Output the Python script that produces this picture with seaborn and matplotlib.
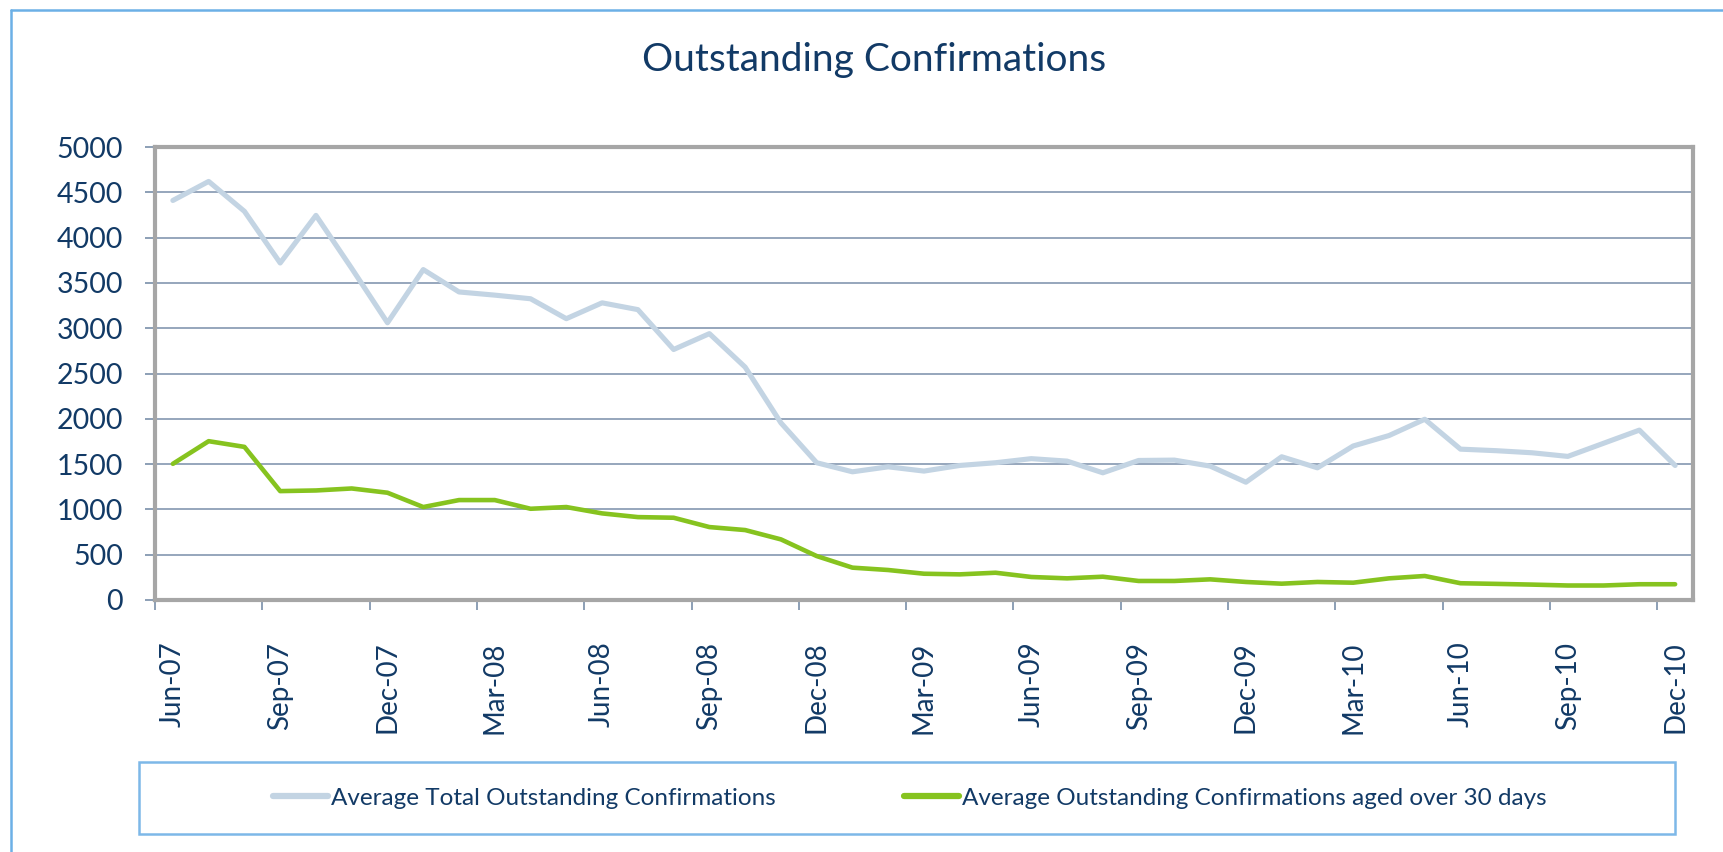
import matplotlib
matplotlib.use("Agg")
import matplotlib.pyplot as plt
from matplotlib.lines import Line2D
from matplotlib.patches import Rectangle
import pandas as pd
import seaborn as sns

months = pd.date_range("2007-06-01", periods=43, freq="MS").strftime("%b-%y").tolist()

total_outstanding = [4410, 4620, 4290, 3720, 4245, 3660, 3060, 3647, 3400, 3365,
                     3325, 3105, 3280, 3205, 2765, 2940, 2570, 1955, 1515, 1415,
                     1470, 1423, 1485, 1515, 1560, 1533, 1404, 1540, 1544, 1478,
                     1300, 1581, 1459, 1700, 1815, 1995, 1665, 1648, 1625, 1585,
                     1730, 1875, 1485]
aged_over_30 = [1503, 1753, 1690, 1202, 1209, 1231, 1184, 1026, 1103, 1103,
                1007, 1026, 956, 915, 908, 805, 772, 669, 485, 357,
                331, 290, 283, 301, 254, 239, 257, 210, 210, 228,
                199, 180, 199, 191, 239, 265, 185, 178, 170, 160,
                160, 174, 174]

series_names = ["Average Total Outstanding Confirmations",
                "Average Outstanding Confirmations aged over 30 days"]
series_colors = ["#C3D4E3", "#86C31F"]

yticks = [0, 500, 1000, 1500, 2000, 2500, 3000, 3500, 4000, 4500, 5000]

text_col = "#123A66"
grid_col = "#8497B0"

df = pd.DataFrame({
    "idx": list(range(len(months))) * 2,
    "value": total_outstanding + aged_over_30,
    "series": [series_names[0]] * len(months) + [series_names[1]] * len(months),
})

sns.set_style("white")
plt.rcParams["font.family"] = ["Lato", "DejaVu Sans"]

fig = plt.figure(figsize=(17.24, 8.52), dpi=100)
ax = fig.add_axes([155 / 1724, 1 - 600 / 852, (1693 - 155) / 1724, (600 - 147) / 852])

sns.lineplot(data=df, x="idx", y="value", hue="series", palette=series_colors,
             linewidth=3.7, ax=ax, legend=False, sort=False)
ax.lines[1].set_linewidth(3.3)

ax.set_xlim(-0.5, len(months) - 0.5)
ax.set_ylim(0, 5000)
ax.set_yticks(yticks)
ax.set_yticklabels([str(v) for v in yticks])
ax.yaxis.grid(True, color=grid_col, linewidth=1.2)
ax.set_axisbelow(True)

# ticks at category boundaries, labels at every third month
ax.set_xticks([i - 0.5 for i in range(0, len(months), 3)])
ax.set_xticklabels([])
ax.set_xticks(list(range(0, len(months), 3)), minor=True)
ax.set_xticklabels(months[::3], minor=True, rotation=90)
ax.tick_params(axis="x", which="major", direction="out", length=7, width=1.3,
               color=grid_col, bottom=True)
ax.tick_params(axis="x", which="minor", length=0, pad=30, labelsize=20,
               labelcolor=text_col)
ax.tick_params(axis="y", direction="out", length=7, width=1.3, color=grid_col,
               left=True, pad=16, labelsize=20.5, labelcolor=text_col)
ax.set_xlabel("")
ax.set_ylabel("")

for s in ax.spines.values():
    s.set_color("#A6A6A6")
    s.set_linewidth(3)

fig.text(874 / 1724, 1 - 60 / 852, "Outstanding Confirmations", ha="center",
         va="center", fontsize=28, color=text_col)

# outer chart border (only top and left visible)
fig.add_artist(Line2D([11 / 1724, 11 / 1724], [0, 1 - 10 / 852], transform=fig.transFigure,
                      color="#6CB0E6", linewidth=1.8))
fig.add_artist(Line2D([11 / 1724, 1], [1 - 10 / 852, 1 - 10 / 852], transform=fig.transFigure,
                      color="#6CB0E6", linewidth=1.8))

# legend box
fig.add_artist(Rectangle((139 / 1724, 1 - 834 / 852), (1675 - 139) / 1724, (834 - 762) / 852,
                         transform=fig.transFigure, fill=False, edgecolor="#7DB8E8",
                         linewidth=1.8))
handles = [Line2D([], [], color=c, linewidth=4.5) for c in series_colors]
fig.legend(handles, series_names, loc="center", bbox_to_anchor=(910 / 1724, 1 - 798 / 852),
           ncol=2, frameon=False, fontsize=17.5, labelcolor=text_col, handlelength=2.26,
           handletextpad=0.12, columnspacing=5.3)

fig.savefig("out.png", dpi=100, facecolor="white")
